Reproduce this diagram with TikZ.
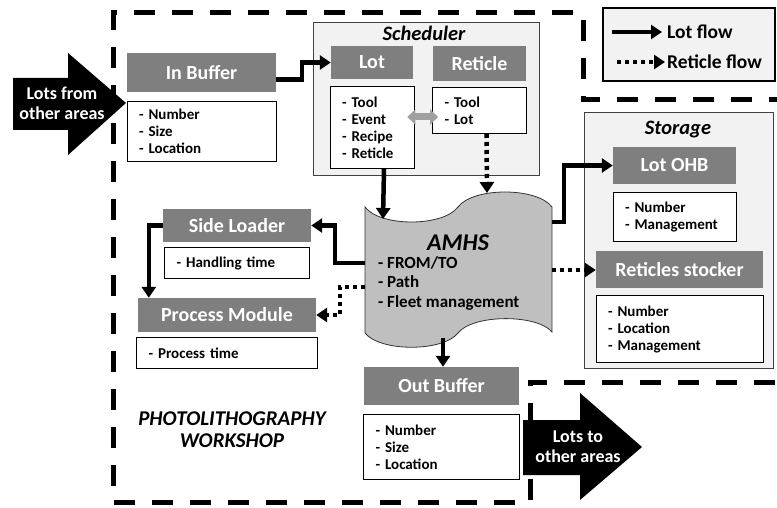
\documentclass[tikz,border=0pt]{standalone}
\usepackage{fontspec}
\setmainfont{Carlito}
\usepackage{tikz}
\usetikzlibrary{arrows.meta, positioning}
\definecolor{headgray}{RGB}{127,127,127}
\definecolor{panelgray}{RGB}{242,242,242}
\definecolor{tapegray}{RGB}{191,191,191}
\definecolor{swapgray}{RGB}{160,160,160}
\tikzset{
  boxhead/.style={
    rectangle, fill=headgray, draw=none,
    text=white, font=\fontsize{20}{24}\selectfont\bfseries,
    inner sep=0pt
  },
  boxinfo/.style={
    rectangle, fill=white, draw=black, line width=0.8pt,
    font=\fontsize{15}{17}\selectfont\bfseries,
    align=left, inner xsep=12pt, inner ysep=0pt
  },
  panel/.style={
    rectangle, fill=panelgray, draw=black!75, line width=0.8pt,
    anchor=north west, inner sep=0pt
  },
  paneltitle/.style={font=\fontsize{20.5}{22}\selectfont\bfseries\itshape},
  legendbox/.style={rectangle, fill=panelgray, draw=black, line width=2.5pt},
  legtext/.style={font=\fontsize{19.5}{22}\selectfont\bfseries, anchor=west, inner sep=0pt},
  bigtext/.style={text=white, font=\fontsize{18}{20}\selectfont\bfseries, align=center},
  zone/.style={draw=black, line width=5pt, dash pattern=on 21pt off 17pt},
  lotflow/.style={draw=black, line width=4.5pt, -{Triangle[length=11pt,width=14pt]}},
  retflow/.style={draw=black, line width=4.5pt, dash pattern=on 4pt off 4pt,
    -{Triangle[length=11pt,width=14pt]}},
  swaparrow/.style={draw=swapgray, line width=7pt,
    {Triangle[length=8pt,width=15pt]}-{Triangle[length=8pt,width=15pt]}},
  line/.style={draw=black!80, line width=0.8pt}
}

\begin{document}
\begin{tikzpicture}[x=1pt, y=-1pt, node distance=7pt]
  \useasboundingbox (0,0) rectangle (777,508);

  % --- Atelier (zone en pointilles) ---
  \draw[zone] (790,100) -- (583,100) -- (583,13) -- (113,13) -- (113,502)
    -- (530,502) -- (530,382) -- (790,382);

  % --- Legende ---
  \node[legendbox, minimum width=172pt, minimum height=73pt] (legend) at (689,44.5) {};
  \node[legtext] (lotlbl) at (667,32) {Lot flow};
  \node[legtext] (retlbl) at (667,62) {Reticle flow};
  \draw[lotflow] ([xshift=-55pt]lotlbl.west) -- ([xshift=-5pt]lotlbl.west);
  \draw[retflow] ([xshift=-50pt]retlbl.west) -- ([xshift=-2pt]retlbl.west);

  % --- Cadres Scheduler / Storage ---
  \node[panel, minimum width=226pt, minimum height=153pt] (sched) at (313,22) {};
  \node[paneltitle] (schedtitle) at (424,33) {Scheduler};
  \node[panel, minimum width=189pt, minimum height=256pt] (storage) at (584,112) {};
  \node[paneltitle] (storagetitle) at (678,130) {Storage};

  % --- Blocs ---
  \node[boxhead, minimum width=149pt, minimum height=39pt] (inbuf) at (201.5,72.5) {In Buffer};
  \node[boxinfo, below=9pt of inbuf, text width=125pt, minimum height=60pt] (inbufinfo) {- Number\\- Size\\- Location};

  \node[boxhead, minimum width=82pt, minimum height=33pt] (lot) at (372,62.5) {Lot};
  \node[boxinfo, below=of lot, text width=60pt, minimum height=82pt] (lotinfo) {- Tool\\- Event\\- Recipe\\- Reticle};

  \node[boxhead, minimum width=93pt, minimum height=35pt] (ret) at (479.5,63.5) {Reticle};
  \node[boxinfo, below=6pt of ret, text width=70pt, minimum height=46pt] (retinfo) {- Tool\\- Lot};

  \node[boxhead, minimum width=123pt, minimum height=37pt] (ohb) at (674.5,165.5) {Lot OHB};
  \node[boxinfo, below=8pt of ohb, text width=99pt, minimum height=49pt] (ohbinfo) {- Number\\- Management};

  \node[boxhead, minimum width=167pt, minimum height=37pt] (stocker) at (679.5,269.5) {Reticles stocker};
  \node[boxinfo, below=of stocker, text width=143pt, minimum height=67pt] (stockerinfo) {- Number\\- Location\\- Management};

  \node[boxhead, minimum width=148pt, minimum height=33pt] (sideld) at (237,225.5) {Side Loader};
  \node[boxinfo, below=5pt of sideld, text width=121pt, minimum height=31pt] (sideldinfo) {- Handling time};

  \node[boxhead, minimum width=178pt, minimum height=34pt] (procmod) at (227,315) {Process Module};
  \node[boxinfo, below=5pt of procmod, text width=157pt, minimum height=31pt] (procmodinfo) {- Process time};

  \node[boxhead, minimum width=155pt, minimum height=38pt] (outbuf) at (441.5,386) {Out Buffer};
  \node[boxinfo, below=9pt of outbuf, text width=132pt, minimum height=65pt] (outbufinfo) {- Number\\- Size\\- Location};

  % --- AMHS (bande) ---
  \filldraw[fill=tapegray, line] (365,207) .. controls (380,227) and (443,227) .. (458,207)
    .. controls (473,187) and (537,187) .. (552,207) -- (552,332)
    .. controls (537,314) and (473,314) .. (458,333)
    .. controls (443,352) and (380,352) .. (365,333) -- cycle;
  \node[minimum width=187pt, minimum height=130pt, inner sep=0pt] (amhs) at (458.5,270) {};
  \node[font=\fontsize{24}{26}\selectfont\bfseries\itshape] (amhstitle) at (458,243) {AMHS};
  \node[font=\fontsize{17}{19.5}\selectfont\bfseries, align=left, anchor=west, inner sep=0pt] (amhslist) at (378,283) {- FROM/TO\\- Path\\- Fleet management};
  \coordinate (tapein) at (383,219);
  \coordinate (tapetop) at (487,193);
  \coordinate (tapeout) at (443,338);
  \coordinate (swapy) at (0,117);

  % --- Fleches ---
  \draw[lotflow] ([yshift=-7pt]inbuf.east) -- ++(26,0) |- (lot.west);
  \draw[lotflow] ([xshift=12pt]lotinfo.south) -- (tapein);
  \draw[retflow] ([xshift=7pt]retinfo.south) -- (tapetop);
  \draw[swaparrow, shorten <=-7pt, shorten >=-6pt] (lotinfo.east |- swapy) -- (retinfo.west |- swapy);
  \draw[lotflow] ([yshift=48pt]amhs.east) -- ++(12,0) |- (ohb.west);
  \draw[retflow] (amhs.east) -- (amhs.east -| stocker.west);
  \draw[lotflow] ([yshift=7pt]amhs.west) -- ++(-30,0) |- (sideld.east);
  \draw[lotflow] (sideld.west) -| ([xshift=11pt]procmod.north west);
  \draw[retflow] ([yshift=-17pt]amhs.west) -- ++(-25,0) |- (procmod.east);
  \draw[lotflow] (tapeout) -- (tapeout |- outbuf.north);

  % --- Entree / sortie des lots ---
  \fill (13,78) -- (68,78) -- (68,53) -- (126,103) -- (68,155) -- (68,130) -- (13,130) -- cycle;
  \node[bigtext] (lotsin) at (62,103) {Lots from\\other areas};
  \fill (523,420) -- (580,420) -- (580,393) -- (642,447) -- (580,500) -- (580,475) -- (523,475) -- cycle;
  \node[bigtext] (lotsout) at (578,447) {Lots to\\other areas};

  \node[font=\fontsize{21}{22}\selectfont\bfseries\itshape, align=center] (workshop) at (232,430) {PHOTOLITHOGRAPHY\\WORKSHOP};

\end{tikzpicture}
\end{document}
